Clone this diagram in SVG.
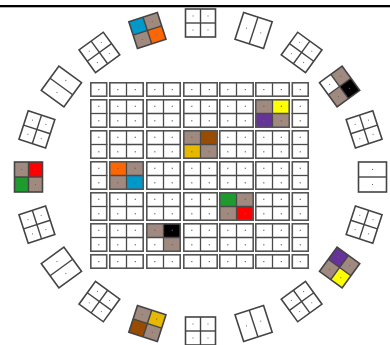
<svg xmlns="http://www.w3.org/2000/svg" xmlns:xlink="http://www.w3.org/1999/xlink" width="390" height="345" viewBox="0 0 390 345">
<style>
.bd{fill:none;stroke:#555;stroke-width:1.6}
.dv{stroke:#4a4a4a;stroke-width:1.3}
.dt{fill:#666}
.pb{fill:none;stroke:#444;stroke-width:1.6}
.pd{stroke:#444;stroke-width:1.4}
.gb{fill:#A08A80}
</style>
<defs>
<g id="A"><rect class="bd" x="0.8" y="0.8" width="15.9" height="13.4"/><rect class="dt" x="8.2" y="7" width="1.2" height="1.2"/></g>
<g id="B"><line class="dv" x1="17.5" y1="0" x2="17.5" y2="15"/><rect class="bd" x="0.8" y="0.8" width="33.4" height="13.4"/><rect class="dt" x="8.2" y="7" width="1.2" height="1.2"/><rect class="dt" x="25.7" y="7" width="1.2" height="1.2"/></g>
<g id="C"><line class="dv" x1="0" y1="14.5" x2="17.5" y2="14.5"/><rect class="bd" x="0.8" y="0.8" width="15.9" height="27.4"/><rect class="dt" x="8.2" y="6.7" width="1.2" height="1.2"/><rect class="dt" x="8.2" y="21.2" width="1.2" height="1.2"/></g>
<g id="D"><line class="dv" x1="17.5" y1="0" x2="17.5" y2="29"/><line class="dv" x1="0" y1="14.5" x2="35" y2="14.5"/><rect class="bd" x="0.8" y="0.8" width="33.4" height="27.4"/><rect class="dt" x="8.2" y="6.7" width="1.2" height="1.2"/><rect class="dt" x="25.7" y="6.7" width="1.2" height="1.2"/><rect class="dt" x="8.2" y="21.2" width="1.2" height="1.2"/><rect class="dt" x="25.7" y="21.2" width="1.2" height="1.2"/></g>
<g id="Q"><line class="pd" x1="0" y1="-14" x2="0" y2="14"/><line class="pd" x1="-15" y1="0" x2="15" y2="0"/><rect class="pb" x="-15" y="-14" width="30" height="28"/><rect class="dt" x="-8" y="-7.5" width="1" height="1"/><rect class="dt" x="7" y="-7.5" width="1" height="1"/><rect class="dt" x="-8" y="6.5" width="1" height="1"/><rect class="dt" x="7" y="6.5" width="1" height="1"/></g>
<g id="P"><line class="pd" x1="0" y1="-14" x2="0" y2="14"/><rect class="pb" x="-15" y="-14" width="30" height="28"/><rect class="dt" x="-8" y="-0.5" width="1" height="1"/><rect class="dt" x="7" y="-0.5" width="1" height="1"/></g>
</defs>
<rect x="0" y="0" width="390" height="345" fill="#fff"/>
<rect x="0" y="5" width="390" height="2.3" fill="#000"/>

<g id="grid">
<g id="b11"><use xlink:href="#A" x="90" y="82"/></g>
<g id="b12"><use xlink:href="#B" x="109" y="82"/></g>
<g id="b13"><use xlink:href="#B" x="146" y="82"/></g>
<g id="b14"><use xlink:href="#B" x="183" y="82"/></g>
<g id="b15"><use xlink:href="#B" x="219" y="82"/></g>
<g id="b16"><use xlink:href="#B" x="255" y="82"/></g>
<g id="b17"><use xlink:href="#A" x="291.5" y="82"/></g>
<g id="b21"><use xlink:href="#C" x="90" y="99"/></g>
<g id="b22"><use xlink:href="#D" x="109" y="99"/></g>
<g id="b23"><use xlink:href="#D" x="146" y="99"/></g>
<g id="b24"><use xlink:href="#D" x="183" y="99"/></g>
<g id="b25"><use xlink:href="#D" x="219" y="99"/></g>
<g id="b26"><rect class="gb" x="255" y="99" width="17.5" height="14.5"/><rect x="272.5" y="99" width="17.5" height="14.5" fill="#FFFF00"/><rect x="255" y="113.5" width="17.5" height="14.5" fill="#663399"/><rect class="gb" x="272.5" y="113.5" width="17.5" height="14.5"/><use xlink:href="#D" x="255" y="99"/></g>
<g id="b27"><use xlink:href="#C" x="291.5" y="99"/></g>
<g id="b31"><use xlink:href="#C" x="90" y="130"/></g>
<g id="b32"><use xlink:href="#D" x="109" y="130"/></g>
<g id="b33"><use xlink:href="#D" x="146" y="130"/></g>
<g id="b34"><rect class="gb" x="183" y="130" width="17.5" height="14.5"/><rect x="200.5" y="130" width="17.5" height="14.5" fill="#994C00"/><rect x="183" y="144.5" width="17.5" height="14.5" fill="#E6B800"/><rect class="gb" x="200.5" y="144.5" width="17.5" height="14.5"/><use xlink:href="#D" x="183" y="130"/></g>
<g id="b35"><use xlink:href="#D" x="219" y="130"/></g>
<g id="b36"><use xlink:href="#D" x="255" y="130"/></g>
<g id="b37"><use xlink:href="#C" x="291.5" y="130"/></g>
<g id="b41"><use xlink:href="#C" x="90" y="161"/></g>
<g id="b42"><rect x="109" y="161" width="17.5" height="14.5" fill="#FF6600"/><rect class="gb" x="126.5" y="161" width="17.5" height="14.5"/><rect class="gb" x="109" y="175.5" width="17.5" height="14.5"/><rect x="126.5" y="175.5" width="17.5" height="14.5" fill="#0099CC"/><use xlink:href="#D" x="109" y="161"/></g>
<g id="b43"><use xlink:href="#D" x="146" y="161"/></g>
<g id="b44"><use xlink:href="#D" x="183" y="161"/></g>
<g id="b45"><use xlink:href="#D" x="219" y="161"/></g>
<g id="b46"><use xlink:href="#D" x="255" y="161"/></g>
<g id="b47"><use xlink:href="#C" x="291.5" y="161"/></g>
<g id="b51"><use xlink:href="#C" x="90" y="192"/></g>
<g id="b52"><use xlink:href="#D" x="109" y="192"/></g>
<g id="b53"><use xlink:href="#D" x="146" y="192"/></g>
<g id="b54"><use xlink:href="#D" x="183" y="192"/></g>
<g id="b55"><rect x="219" y="192" width="17.5" height="14.5" fill="#1E9A2E"/><rect class="gb" x="236.5" y="192" width="17.5" height="14.5"/><rect class="gb" x="219" y="206.5" width="17.5" height="14.5"/><rect x="236.5" y="206.5" width="17.5" height="14.5" fill="#FF0000"/><use xlink:href="#D" x="219" y="192"/></g>
<g id="b56"><use xlink:href="#D" x="255" y="192"/></g>
<g id="b57"><use xlink:href="#C" x="291.5" y="192"/></g>
<g id="b61"><use xlink:href="#C" x="90" y="223"/></g>
<g id="b62"><use xlink:href="#D" x="109" y="223"/></g>
<g id="b63"><rect class="gb" x="146" y="223" width="17.5" height="14.5"/><rect x="163.5" y="223" width="17.5" height="14.5" fill="#000"/><rect class="gb" x="163.5" y="237.5" width="17.5" height="14.5"/><use xlink:href="#D" x="146" y="223"/></g>
<g id="b64"><use xlink:href="#D" x="183" y="223"/></g>
<g id="b65"><use xlink:href="#D" x="219" y="223"/></g>
<g id="b66"><use xlink:href="#D" x="255" y="223"/></g>
<g id="b67"><use xlink:href="#C" x="291.5" y="223"/></g>
<g id="b71"><use xlink:href="#A" x="90" y="254"/></g>
<g id="b72"><use xlink:href="#B" x="109" y="254"/></g>
<g id="b73"><use xlink:href="#B" x="146" y="254"/></g>
<g id="b74"><use xlink:href="#B" x="183" y="254"/></g>
<g id="b75"><use xlink:href="#B" x="219" y="254"/></g>
<g id="b76"><use xlink:href="#B" x="255" y="254"/></g>
<g id="b77"><use xlink:href="#A" x="291.5" y="254"/></g>
</g>

<g id="ring">
<g id="p000" transform="translate(200.5,23)"><use xlink:href="#Q"/></g>
<g id="p018" transform="translate(253.6,30.5) rotate(18)"><use xlink:href="#P"/></g>
<g id="p036" transform="translate(301.6,52.4) rotate(36)"><use xlink:href="#Q"/></g>
<g id="p054" transform="translate(339.6,86.5) rotate(54)"><rect class="gb" x="-15" y="-14" width="15" height="14"/><rect x="0" y="-14" width="15" height="14" fill="#000"/><rect class="gb" x="0" y="0" width="15" height="14"/><use xlink:href="#Q"/></g>
<g id="p072" transform="translate(364.1,129.4) rotate(72)"><use xlink:href="#Q"/></g>
<g id="p090" transform="translate(372.5,177) rotate(90)"><use xlink:href="#P"/></g>
<g id="p108" transform="translate(364.1,224.6) rotate(108)"><use xlink:href="#Q"/></g>
<g id="p126" transform="translate(339.6,267.5) rotate(126)"><rect class="gb" x="-15" y="-14" width="15" height="14"/><rect x="0" y="-14" width="15" height="14" fill="#FFFF00"/><rect x="-15" y="0" width="15" height="14" fill="#663399"/><rect class="gb" x="0" y="0" width="15" height="14"/><use xlink:href="#Q"/></g>
<g id="p144" transform="translate(301.6,301.6) rotate(144)"><use xlink:href="#Q"/></g>
<g id="p162" transform="translate(253.6,323.5) rotate(162)"><use xlink:href="#P"/></g>
<g id="p180" transform="translate(200.5,331) rotate(180)"><use xlink:href="#Q"/></g>
<g id="p198" transform="translate(147.4,323.5) rotate(198)"><rect class="gb" x="-15" y="-14" width="15" height="14"/><rect x="0" y="-14" width="15" height="14" fill="#994C00"/><rect x="-15" y="0" width="15" height="14" fill="#E6B800"/><rect class="gb" x="0" y="0" width="15" height="14"/><use xlink:href="#Q"/></g>
<g id="p216" transform="translate(99.4,301.6) rotate(216)"><use xlink:href="#Q"/></g>
<g id="p234" transform="translate(61.4,267.5) rotate(234)"><use xlink:href="#P"/></g>
<g id="p252" transform="translate(36.9,224.6) rotate(252)"><use xlink:href="#Q"/></g>
<g id="p270" transform="translate(28.5,177) rotate(270)"><rect x="-15" y="-14" width="15" height="14" fill="#1E9A2E"/><rect class="gb" x="0" y="-14" width="15" height="14"/><rect class="gb" x="-15" y="0" width="15" height="14"/><rect x="0" y="0" width="15" height="14" fill="#FF0000"/><use xlink:href="#Q"/></g>
<g id="p288" transform="translate(36.9,129.4) rotate(288)"><use xlink:href="#Q"/></g>
<g id="p306" transform="translate(61.4,86.5) rotate(306)"><use xlink:href="#P"/></g>
<g id="p324" transform="translate(99.4,52.4) rotate(324)"><use xlink:href="#Q"/></g>
<g id="p342" transform="translate(147.4,30.5) rotate(342)"><rect x="-15" y="-14" width="15" height="14" fill="#0099CC"/><rect class="gb" x="0" y="-14" width="15" height="14"/><rect class="gb" x="-15" y="0" width="15" height="14"/><rect x="0" y="0" width="15" height="14" fill="#FF6600"/><use xlink:href="#Q"/></g>
</g>
<g id="connectors"/>
</svg>
